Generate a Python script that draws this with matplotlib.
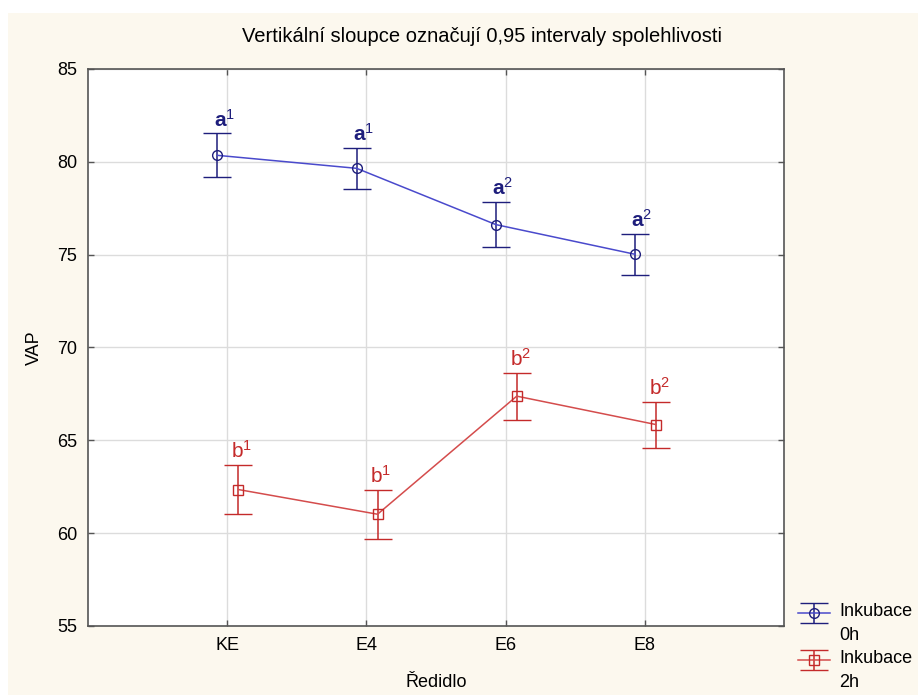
import matplotlib
matplotlib.use("Agg")
import matplotlib.pyplot as plt
from matplotlib.patches import Rectangle
from matplotlib.transforms import Affine2D
from matplotlib.legend_handler import HandlerErrorbar

plt.rcParams['font.family'] = ['Liberation Sans', 'DejaVu Sans']
plt.rcParams['mathtext.fontset'] = 'custom'
plt.rcParams['mathtext.rm'] = 'Liberation Sans'
plt.rcParams['mathtext.bf'] = 'Liberation Sans:bold'
plt.rcParams['mathtext.it'] = 'Liberation Sans:italic'

# data
categories = ["KE", "E4", "E6", "E8"]
series_names = ["Inkubace\n0h", "Inkubace\n2h"]
mean_0h = [80.35, 79.65, 76.62, 75.02]
ci_0h = [1.18, 1.10, 1.22, 1.10]
mean_2h = [62.35, 61.02, 67.38, 65.85]
ci_2h = [1.32, 1.32, 1.26, 1.24]
letters_0h = ["a", "a", "a", "a"]
groups_0h = ["1", "1", "2", "2"]
letters_2h = ["b", "b", "b", "b"]
groups_2h = ["1", "1", "2", "2"]

cream = "#fcf8ee"
blue_line = "#4a4acc"
blue_dark = "#1e1e7c"
red_line = "#d44c4c"
red_dark = "#c42a2a"


class TopLineErrorbar(HandlerErrorbar):
    # put the handle next to the first text line, not the middle of both
    def create_artists(self, legend, orig_handle, xdescent, ydescent,
                       width, height, fontsize, trans):
        shifted = Affine2D().translate(0, fontsize * 0.6) + trans
        return super().create_artists(legend, orig_handle, xdescent, ydescent,
                                      width, height, fontsize, shifted)


fig = plt.figure(figsize=(9.18, 6.95), dpi=100, facecolor="white")
fig.patches.append(Rectangle((8 / 918, 0), 1, 682 / 695, transform=fig.transFigure,
                             facecolor=cream, edgecolor="none", zorder=-10))

ax = fig.add_axes([88 / 918, 69 / 695, (784 - 88) / 918, (626 - 69) / 695])
ax.set_facecolor("white")

x = range(len(categories))
x_0h = [i - 0.07 for i in x]
x_2h = [i + 0.08 for i in x]

eb1 = ax.errorbar(x_0h, mean_0h, yerr=ci_0h, color=blue_line, lw=1.1,
                  marker="o", ms=7, mfc="none", mec=blue_dark, mew=1.0,
                  ecolor=blue_dark, elinewidth=1.1, capsize=10, capthick=1.1,
                  label=series_names[0], zorder=3)
eb2 = ax.errorbar(x_2h, mean_2h, yerr=ci_2h, color=red_line, lw=1.1,
                  marker="s", ms=6.5, mfc="none", mec=red_dark, mew=1.0,
                  ecolor=red_dark, elinewidth=1.1, capsize=10, capthick=1.1,
                  label=series_names[1], zorder=3)

for xi, m, c, let, g in zip(x_0h, mean_0h, ci_0h, letters_0h, groups_0h):
    ax.annotate(r"$\mathbf{%s}^{%s}$" % (let, g), (xi, m + c), xytext=(5, 5),
                textcoords="offset points", ha="center", va="baseline",
                fontsize=15, color=blue_dark)
for xi, m, c, let, g in zip(x_2h, mean_2h, ci_2h, letters_2h, groups_2h):
    ax.annotate(r"$\mathrm{%s}^{%s}$" % (let, g), (xi, m + c), xytext=(2.5, 5),
                textcoords="offset points", ha="center", va="baseline",
                fontsize=15, color=red_dark)

ax.set_xlim(-1, 4)
ax.set_ylim(55, 85)
ax.set_xticks(list(x))
ax.set_xticklabels(categories)
ax.set_yticks(range(55, 86, 5))
ax.grid(True, color="#dcdcdc", lw=1.0, zorder=0)
ax.set_axisbelow(True)
ax.tick_params(direction="in", length=4, width=1, color="#555555",
               top=True, right=True, labelsize=13, pad=8)
for sp in ax.spines.values():
    sp.set_color("#555555")
    sp.set_linewidth(1.2)

ax.set_xlabel("Ředidlo", fontsize=13, labelpad=14)
ax.set_ylabel("VAP", fontsize=13, labelpad=10)

fig.text(482 / 918, 1 - 37 / 695, "Vertikální sloupce označují 0,95 intervaly spolehlivosti",
         ha="center", va="center", fontsize=14.5)

leg = fig.legend(handles=[eb1, eb2], loc="upper left", bbox_to_anchor=(798 / 918, 1 - 603 / 695),
                 frameon=False, fontsize=13, handlelength=1.75, handletextpad=0.55,
                 labelspacing=0.33, borderpad=0, borderaxespad=0,
                 handler_map={type(eb1): TopLineErrorbar(xerr_size=0.5, yerr_size=0.55)})
for t in leg.get_texts():
    t.set_linespacing(1.55)

fig.savefig("out.png", dpi=100, facecolor=fig.get_facecolor())
